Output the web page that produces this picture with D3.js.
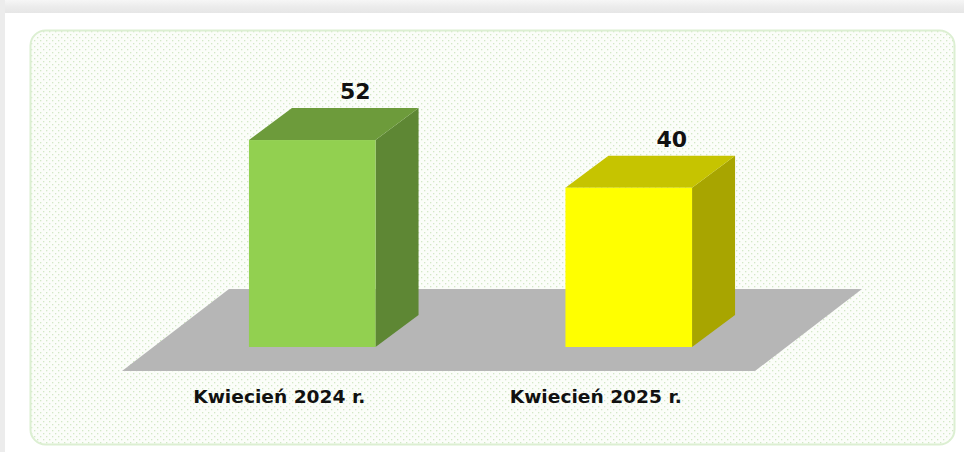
<!DOCTYPE html>
<html><head><meta charset="utf-8">
<script src="https://cdn.jsdelivr.net/npm/d3@7"></script>
<style>html,body{margin:0;padding:0;background:#fff;}svg{display:block;}</style>
</head><body>
<script>
const categories = ["Kwiecień 2024 r.", "Kwiecień 2025 r."];
const values = [52, 40];
const frontColors = ["#92d050", "#ffff00"];
const topColors = ["#6d9b3b", "#c6c400"];
const sideColors = ["#5e8734", "#a8a500"];

const W = 964, H = 452;
const svg = d3.select("body").append("svg").attr("width", W).attr("height", H);
const defs = svg.append("defs");
const pat = defs.append("pattern").attr("id", "dots").attr("patternUnits", "userSpaceOnUse")
  .attr("width", 6).attr("height", 6);
pat.append("rect").attr("width", 6).attr("height", 6).attr("fill", "#fbfdf9");
pat.append("rect").attr("x", 1).attr("y", 1).attr("width", 1.3).attr("height", 1.3).attr("fill", "#d3e8c6");
pat.append("rect").attr("x", 4).attr("y", 4).attr("width", 1.3).attr("height", 1.3).attr("fill", "#d3e8c6");
const g1 = defs.append("linearGradient").attr("id", "topband").attr("x1", 0).attr("y1", 0).attr("x2", 0).attr("y2", 1);
g1.append("stop").attr("offset", "0%").attr("stop-color", "#f6f6f6");
g1.append("stop").attr("offset", "50%").attr("stop-color", "#ececec");
g1.append("stop").attr("offset", "100%").attr("stop-color", "#e6e6e6");

// page chrome
svg.append("rect").attr("x", 0).attr("y", 0).attr("width", W).attr("height", 13).attr("fill", "url(#topband)");
svg.append("rect").attr("x", 0).attr("y", 0).attr("width", 5).attr("height", H).attr("fill", "#ececec");

// panel
svg.append("rect").attr("x", 30.5).attr("y", 30.5).attr("width", 924).attr("height", 414)
  .attr("rx", 15).attr("ry", 15).attr("fill", "url(#dots)").attr("stroke", "#dcefd2").attr("stroke-width", 2);

const base = 347, dx = 43, dy = -32;
const x = d3.scaleBand().domain(categories).range([154, 787]).paddingInner(0.6).paddingOuter(0.3);
const y = d3.scaleLinear().domain([0, 60]).range([base, 108.2]);

// floor
const [r0, r1] = x.range();
const fl = [[r0 - 32, base + 24], [r1 - 32, base + 24], [r1 - 32 + 107, base - 58], [r0 - 32 + 107, base - 58]];
svg.append("path").attr("d", "M" + fl.map(p => p.join(",")).join("L") + "Z").attr("fill", "#b6b6b6");

const bw = x.bandwidth();
const bars = svg.append("g").selectAll("g").data(values).join("g");
bars.each(function(v, i) {
  const g = d3.select(this);
  const x0 = x(categories[i]), x1 = x0 + bw, yt = y(v);
  g.append("path").attr("d", `M${x1},${yt}L${x1 + dx},${yt + dy}L${x1 + dx},${base + dy}L${x1},${base}Z`).attr("fill", sideColors[i]);
  g.append("path").attr("d", `M${x0},${yt}L${x0 + dx},${yt + dy}L${x1 + dx},${yt + dy}L${x1},${yt}Z`).attr("fill", topColors[i]);
  g.append("rect").attr("x", x0).attr("y", yt).attr("width", bw).attr("height", base - yt).attr("fill", frontColors[i]);
  g.append("text").attr("x", x0 + dx + bw / 2).attr("y", yt + dy - 9)
    .attr("text-anchor", "middle").attr("font-family", "'DejaVu Sans', sans-serif").attr("font-weight", "bold")
    .attr("font-size", 22).attr("fill", "#111").text(v);
  g.append("text").attr("x", x0 + bw / 2 - 33).attr("y", 403)
    .attr("text-anchor", "middle").attr("font-family", "'DejaVu Sans Condensed', 'DejaVu Sans', sans-serif").attr("font-weight", "bold")
    .attr("font-size", 17).attr("fill", "#111")
    .attr("textLength", 172).attr("lengthAdjust", "spacingAndGlyphs").text(categories[i]);
});
</script>
</body></html>
